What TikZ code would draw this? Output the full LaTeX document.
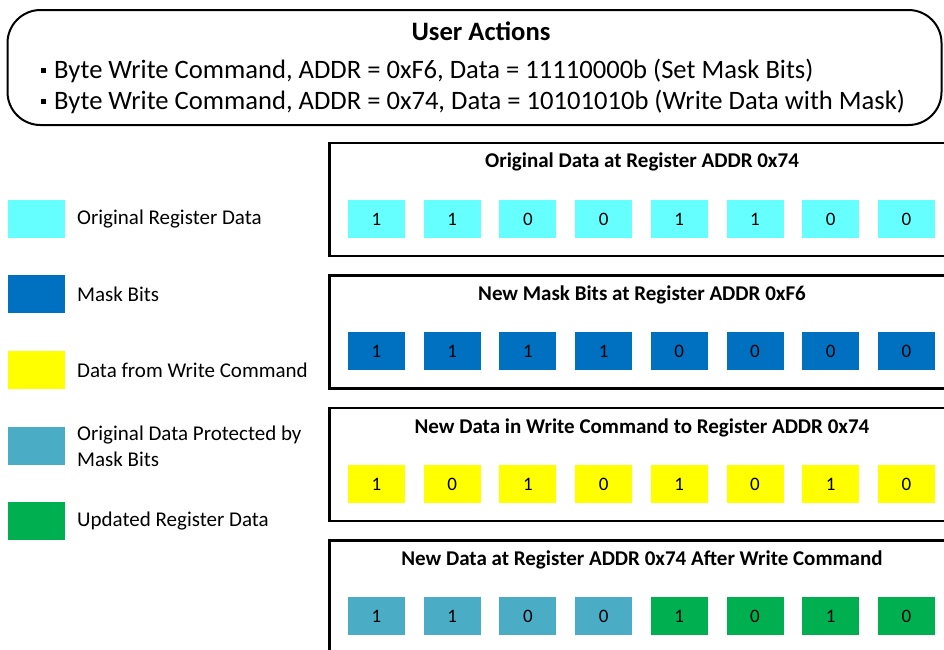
\documentclass[tikz,border=0pt]{standalone}
\usepackage{fontspec}
\setmainfont{Carlito}
\definecolor{cOrig}{HTML}{66FFFF}
\definecolor{cMask}{HTML}{0070C0}
\definecolor{cNew}{HTML}{FFFF00}
\definecolor{cProt}{HTML}{4BACC6}
\definecolor{cUpd}{HTML}{00B050}
\tikzset{
  bitcell/.style={minimum width=57pt, minimum height=37.5pt, inner sep=0pt, font=\fontsize{19}{21}\selectfont},
  swatch/.style={minimum width=57pt, minimum height=37.5pt, inner sep=0pt},
  legtext/.style={anchor=west, inner sep=0pt, font=\fontsize{21}{26}\selectfont, align=left},
  panel/.style={draw=black, line width=2.4pt},
  ptitle/.style={font=\bfseries\fontsize{21}{23}\selectfont, inner sep=0pt},
  topline/.style={anchor=west, inner sep=0pt, font=\fontsize{26.6}{28}\selectfont},
}
\newcommand{\sqbul}{\raisebox{0.2em}{\rule{0.19em}{0.19em}}\hspace{0.3em}}
\begin{document}
\begin{tikzpicture}[x=1pt,y=1pt]
\useasboundingbox (0,0) rectangle (944,-649);
\clip (0,0) rectangle (944,-649);
% User actions box
\node[draw=black, line width=2pt, rounded corners=33pt, minimum width=934pt, minimum height=115pt, inner sep=0pt] (ua) at (474.5,-67.5) {};
\node[font=\bfseries\fontsize{26.6}{28}\selectfont, inner sep=0pt] (uat) at (481,-31) {User Actions};
\node[topline] (l1) at (41,-71) {\sqbul Byte Write Command, ADDR = 0xF6, Data = 11110000b (Set Mask Bits)};
\node[topline] (l2) at (41,-102) {\sqbul Byte Write Command, ADDR = 0x74, Data = 10101010b (Write Data with Mask)};
% Legend
\node[swatch, fill=cOrig] (s1) at (36.5,-219) {};
\node[legtext] (t1) at (77,-219) {Original Register Data};
\node[swatch, fill=cMask] (s2) at (36.5,-294) {};
\node[legtext] (t2) at (77,-294) {Mask Bits};
\node[swatch, fill=cNew] (s3) at (36.5,-370) {};
\node[legtext] (t3) at (77,-370) {Data from Write Command};
\node[swatch, fill=cProt] (s4) at (36.5,-446) {};
\node[legtext] (t4) at (77,-446) {Original Data Protected by\\Mask Bits};
\node[swatch, fill=cUpd] (s5) at (36.5,-521) {};
\node[legtext] (t5) at (77,-521) {Updated Register Data};
% Panels
\draw[panel] (329.5,-143) rectangle (956,-256);
\draw[panel] (329.5,-275.5) rectangle (956,-388.5);
\draw[panel] (329.5,-408) rectangle (956,-521);
\draw[panel] (329.5,-540.5) rectangle (956,-680);
\node[ptitle] (p1) at (642,-162) {Original Data at Register ADDR 0x74};
\node[ptitle] (p2) at (642,-295) {New Mask Bits at Register ADDR 0xF6};
\node[ptitle] (p3) at (642,-428) {New Data in Write Command to Register ADDR 0x74};
\node[ptitle] (p4) at (642,-560) {New Data at Register ADDR 0x74 After Write Command};
% Bits
\foreach \b [count=\i] in {1,1,0,0,1,1,0,0}
  \node[bitcell, fill=cOrig] (a\i) at ({376.5+75.7*(\i-1)},-219) {\b};
\foreach \b [count=\i] in {1,1,1,1,0,0,0,0}
  \node[bitcell, fill=cMask] (m\i) at ({376.5+75.7*(\i-1)},-351) {\b};
\foreach \b [count=\i] in {1,0,1,0,1,0,1,0}
  \node[bitcell, fill=cNew] (n\i) at ({376.5+75.7*(\i-1)},-484) {\b};
\foreach \b [count=\i] in {1,1,0,0}
  \node[bitcell, fill=cProt] (r\i) at ({376.5+75.7*(\i-1)},-616) {\b};
\foreach \b [count=\i] in {1,0,1,0}
  \node[bitcell, fill=cUpd] (u\i) at ({679.3+75.7*(\i-1)},-616) {\b};
\end{tikzpicture}
\end{document}
